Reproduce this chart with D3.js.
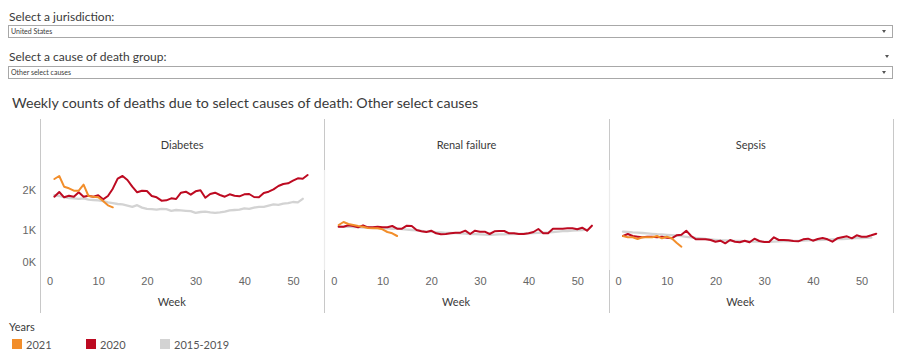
<!DOCTYPE html>
<html>
<head>
<meta charset="utf-8">
<script src="https://cdn.jsdelivr.net/npm/d3@7/dist/d3.min.js"></script>
<style>
  body { margin: 0; background: #fff; }
  svg { display: block; font-family: Lato, "Open Sans", sans-serif; }
</style>
</head>
<body>
<svg id="chart" width="904" height="364"></svg>
<script>
// ---- Data ----
const causes = ["Diabetes", "Renal failure", "Sepsis"];
const yearLabels = ["2021", "2020", "2015-2019"];
const xTicks = [0, 10, 20, 30, 40, 50];
const yTicks = [0, 1000, 2000];

const diabetes2021 = [2275, 2350, 2083, 2042, 1983, 1983, 2133, 1850, 1833, 1817, 1725, 1617, 1567];
const diabetes2020 = [1833, 1950, 1817, 1858, 1833, 1942, 1833, 1858, 1833, 1867, 1767, 1850, 2033, 2283, 2350, 2250, 2083, 1942, 1983, 1975, 1850, 1817, 1733, 1742, 1792, 1775, 1933, 1958, 1883, 1967, 1992, 1808, 1900, 1933, 1875, 1833, 1892, 1858, 1842, 1892, 1900, 1825, 1817, 1925, 1958, 2017, 2100, 2150, 2167, 2233, 2292, 2283, 2375];
const diabetesBase = [1870, 1850, 1820, 1800, 1790, 1780, 1790, 1760, 1750, 1740, 1720, 1690, 1670, 1650, 1640, 1610, 1580, 1620, 1560, 1530, 1520, 1510, 1530, 1520, 1480, 1500, 1490, 1480, 1470, 1430, 1450, 1460, 1440, 1430, 1440, 1460, 1490, 1500, 1510, 1540, 1530, 1560, 1580, 1580, 1610, 1640, 1630, 1660, 1670, 1700, 1690, 1780];

const renal2021 = [1125, 1200, 1150, 1125, 1100, 1083, 1050, 1045, 1042, 1017, 950, 917, 850];
const renal2020 = [1083, 1083, 1117, 1100, 1067, 1117, 1067, 1067, 1083, 1067, 1067, 1100, 1033, 1033, 1108, 1100, 1000, 967, 950, 983, 917, 892, 900, 917, 933, 933, 983, 900, 983, 958, 958, 900, 967, 975, 975, 917, 917, 900, 900, 917, 950, 1025, 917, 917, 1033, 1033, 1033, 1042, 1042, 1017, 1058, 983, 1108];
const renalBase = [1090, 1080, 1085, 1075, 1070, 1060, 1065, 1055, 1050, 1045, 1040, 1030, 1035, 1020, 1010, 1000, 990, 975, 960, 955, 945, 940, 930, 925, 920, 915, 910, 900, 895, 890, 885, 880, 885, 890, 890, 895, 900, 905, 910, 915, 920, 930, 935, 940, 950, 960, 970, 975, 985, 990, 1000, 1010];

const sepsis2021 = [850, 817, 817, 775, 817, 817, 817, 850, 792, 833, 792, 683, 583];
const sepsis2020 = [850, 900, 850, 833, 817, 833, 833, 817, 833, 808, 792, 867, 883, 983, 850, 767, 767, 767, 750, 708, 733, 667, 750, 708, 692, 733, 692, 783, 725, 700, 700, 817, 750, 750, 742, 725, 717, 767, 783, 733, 775, 800, 767, 708, 792, 817, 842, 792, 867, 833, 833, 867, 908];
const sepsisBase = [960, 950, 940, 935, 925, 915, 905, 895, 890, 880, 870, 860, 845, 830, 815, 800, 790, 775, 765, 755, 745, 740, 735, 730, 725, 720, 715, 710, 710, 705, 705, 710, 715, 720, 725, 730, 730, 735, 740, 745, 750, 755, 760, 765, 770, 775, 780, 790, 795, 800, 805, 810];

const seriesByCause = [
  [diabetesBase, diabetes2020, diabetes2021],
  [renalBase, renal2020, renal2021],
  [sepsisBase, sepsis2020, sepsis2021]
];
const colors = { "2021": "#F28E2B", "2020": "#BD0A21", "2015-2019": "#D3D3D3" };
const drawOrder = ["2015-2019", "2020", "2021"];

// ---- Layout ----
const svg = d3.select("#chart");
const textColor = "#3a3a3a";

// dropdowns
function dropdown(label, value, labelY, boxY) {
  svg.append("text").attr("x", 9).attr("y", labelY).attr("font-size", 12).attr("fill", textColor).text(label);
  svg.append("rect").attr("x", 8.5).attr("y", boxY + 0.5).attr("width", 884).attr("height", 12)
    .attr("fill", "#fff").attr("stroke", "#a8a8a8");
  svg.append("text").attr("x", 11).attr("y", boxY + 9).attr("font-size", 7).attr("fill", textColor).text(value);
  svg.append("path").attr("d", `M882,${boxY + 5} L886,${boxY + 5} L884,${boxY + 8} Z`).attr("fill", "#555");
}
dropdown("Select a jurisdiction:", "United States", 21, 25);
dropdown("Select a cause of death group:", "Other select causes", 61, 66);
svg.append("path").attr("d", "M885,55 L889,55 L887,58 Z").attr("fill", "#555");

// title
svg.append("text").attr("x", 12).attr("y", 108).attr("font-size", 14.2).attr("fill", textColor)
  .text("Weekly counts of deaths due to select causes of death: Other select causes");

// scales
const panelLeft0 = 40, panelW = 284.3;
const paneTop = 170, paneBottom = 270;
const x = d3.scaleLinear().domain([0, 50]).range([9.5, 253]);
const y = d3.scaleLinear().domain([0, 2500]).range([paneBottom, paneTop]);

// dividers
for (let i = 0; i <= 3; i++) {
  const lx = Math.round(panelLeft0 + i * panelW) + 0.5;
  svg.append("line").attr("x1", lx).attr("x2", lx).attr("y1", 119).attr("y2", 313)
    .attr("stroke", "#c8c8c8").attr("stroke-width", 1);
  if (i === 1 || i === 2) {
    svg.append("line").attr("x1", lx).attr("x2", lx).attr("y1", paneTop).attr("y2", paneBottom)
      .attr("stroke", "#ebebeb").attr("stroke-width", 1.2);
  }
}

const line = d3.line().x((d, i) => x(i + 1)).y(d => y(d)).curve(d3.curveLinear);

causes.forEach((cause, ci) => {
  const g = svg.append("g").attr("transform", `translate(${panelLeft0 + ci * panelW},0)`);
  // header
  g.append("text").attr("x", panelW / 2).attr("y", 149).attr("text-anchor", "middle")
    .attr("font-size", 11).attr("fill", textColor).text(cause);

  // x axis
  const xa = g.append("g").attr("transform", `translate(0,${paneBottom})`)
    .call(d3.axisBottom(x).tickValues(xTicks).tickSize(0).tickPadding(7));
  xa.select(".domain").remove();
  xa.selectAll("text").attr("font-size", 11).attr("fill", "#666").attr("font-family", null);
  g.append("text").attr("x", x(25) + 0.5).attr("y", 306).attr("text-anchor", "middle")
    .attr("font-size", 11).attr("fill", textColor).text("Week");

  // lines
  const data = seriesByCause[ci];
  drawOrder.forEach((yr, k) => {
    g.append("path").datum(data[k]).attr("d", line).attr("fill", "none")
      .attr("stroke", colors[yr]).attr("stroke-width", yr === "2015-2019" ? 2.3 : 2)
      .attr("stroke-linejoin", "round").attr("stroke-linecap", "round");
  });
});

// y axis (first panel only)
const ya = svg.append("g").attr("transform", `translate(${panelLeft0},0)`)
  .call(d3.axisLeft(y).tickValues(yTicks).tickSize(0).tickPadding(4).tickFormat(d => (d / 1000) + "K"));
ya.select(".domain").remove();
ya.selectAll("text").attr("font-size", 11).attr("fill", "#666").attr("font-family", null);
// keep bottom label inside the pane
ya.selectAll(".tick").attr("transform", d => `translate(0,${Math.min(y(d), paneBottom - 8)})`);

// legend
svg.append("text").attr("x", 9).attr("y", 331).attr("font-size", 11).attr("fill", textColor).text("Years");
const legendX = [12, 86, 160];
yearLabels.forEach((yr, i) => {
  svg.append("rect").attr("x", legendX[i]).attr("y", 339).attr("width", 10).attr("height", 10).attr("fill", colors[yr]);
  svg.append("text").attr("x", legendX[i] + 14).attr("y", 348.5).attr("font-size", 11).attr("fill", "#555").text(yr);
});
</script>
</body>
</html>
